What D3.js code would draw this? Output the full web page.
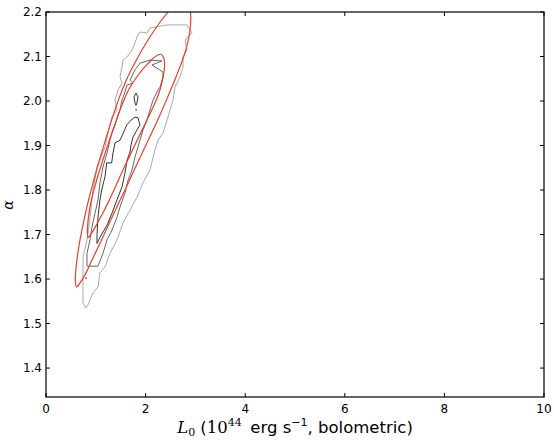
<!DOCTYPE html>
<html><head><meta charset="utf-8">
<script src="https://cdn.jsdelivr.net/npm/d3@7/dist/d3.min.js"></script>
<style>body{margin:0;background:#fff}svg{display:block}</style>
</head><body>
<svg id="c" width="554" height="440"></svg>
<script>
// ---- data (L0 in 1e44 erg/s, alpha) ----
const xTicks = [0, 2, 4, 6, 8, 10];
const yTicks = [1.4, 1.5, 1.6, 1.7, 1.8, 1.9, 2.0, 2.1, 2.2];
const xDomain = [0, 10];
const yDomain = [1.335, 2.2];

// outer (light grey) MCMC contour
const contourOuter = [[0.803,1.535],[0.843,1.542],[0.944,1.569],[1.044,1.582],[1.084,1.614],[1.185,1.627],[1.285,1.658],[1.426,1.688],[1.546,1.726],[1.687,1.755],[1.827,1.784],[1.948,1.816],[2.088,1.845],[2.189,1.890],[2.249,1.912],[2.349,1.928],[2.450,1.964],[2.550,2.002],[2.590,2.031],[2.691,2.054],[2.751,2.076],[2.751,2.099],[2.831,2.115],[2.791,2.137],[2.932,2.153],[2.831,2.171],[2.430,2.171],[2.088,2.164],[2.028,2.153],[1.888,2.155],[1.827,2.144],[1.787,2.130],[1.727,2.115],[1.627,2.099],[1.546,2.092],[1.526,2.076],[1.486,2.054],[1.526,2.040],[1.446,2.025],[1.386,2.002],[1.426,1.980],[1.325,1.964],[1.245,1.928],[1.185,1.897],[1.084,1.867],[1.024,1.852],[0.944,1.800],[0.884,1.739],[0.823,1.688],[0.743,1.649],[0.743,1.614],[0.743,1.582],[0.743,1.546],[0.803,1.535]];
// middle (mid grey) contour
const contourMiddle = [[0.823,1.629],[1.044,1.629],[1.145,1.658],[1.225,1.688],[1.325,1.710],[1.426,1.739],[1.486,1.762],[1.586,1.793],[1.647,1.822],[1.727,1.845],[1.787,1.874],[1.888,1.912],[1.948,1.935],[2.028,1.957],[2.088,1.980],[2.149,2.002],[2.249,2.025],[2.289,2.031],[2.349,2.054],[2.349,2.065],[2.129,2.081],[2.329,2.090],[2.088,2.092],[1.888,2.085],[1.787,2.070],[1.687,2.047],[1.747,2.040],[1.627,2.036],[1.586,2.020],[1.526,2.002],[1.486,1.980],[1.446,1.969],[1.386,1.946],[1.325,1.928],[1.285,1.912],[1.225,1.883],[1.145,1.852],[1.084,1.816],[1.044,1.778],[0.984,1.748],[0.924,1.717],[0.884,1.688],[0.823,1.658],[0.823,1.629]];
// inner (dark) contour
const contourInner = [[1.787,1.964],[1.847,1.962],[1.888,1.946],[1.827,1.935],[1.747,1.919],[1.707,1.901],[1.687,1.885],[1.627,1.867],[1.586,1.838],[1.526,1.807],[1.426,1.778],[1.325,1.748],[1.225,1.721],[1.084,1.694],[1.024,1.680],[1.024,1.700],[1.044,1.739],[1.084,1.778],[1.118,1.800],[1.185,1.830],[1.219,1.861],[1.319,1.861],[1.345,1.883],[1.386,1.906],[1.486,1.912],[1.552,1.928],[1.620,1.946],[1.707,1.957],[1.787,1.964]];
const contourInnerLoop = [[1.767,2.009],[1.807,2.018],[1.847,2.009],[1.827,1.996],[1.807,1.990],[1.787,1.996],[1.767,2.009]];
const innerDots = [[1.807,1.980],[0.803,1.602]];

// Fisher-forecast confidence ellipses (outline points)
const ellipseOuter = [[2.610,2.227],[2.711,2.234],[2.811,2.231],[2.882,2.218],[2.902,2.200],[2.906,2.182],[2.892,2.160],[2.857,2.137],[2.807,2.115],[2.741,2.092],[2.667,2.070],[2.586,2.047],[2.418,2.002],[2.225,1.953],[2.036,1.908],[1.837,1.861],[1.631,1.811],[1.452,1.769],[1.281,1.728],[1.141,1.694],[1.018,1.665],[0.896,1.636],[0.791,1.611],[0.695,1.593],[0.643,1.585],[0.612,1.582],[0.590,1.596],[0.594,1.613],[0.614,1.636],[0.639,1.658],[0.683,1.688],[0.763,1.733],[0.855,1.778],[0.960,1.822],[1.072,1.867],[1.193,1.912],[1.317,1.957],[1.454,2.002],[1.614,2.047],[1.815,2.092],[2.048,2.137],[2.321,2.182],[2.450,2.200],[2.530,2.218]];
const ellipseInner = [[2.299,2.105],[2.349,2.101],[2.375,2.092],[2.382,2.079],[2.359,2.058],[2.325,2.040],[2.279,2.022],[2.221,2.004],[2.153,1.987],[2.078,1.969],[2.000,1.951],[1.823,1.910],[1.677,1.876],[1.536,1.843],[1.402,1.809],[1.281,1.780],[1.155,1.751],[1.024,1.724],[0.932,1.706],[0.867,1.696],[0.843,1.693],[0.831,1.706],[0.839,1.724],[0.861,1.746],[0.896,1.769],[0.940,1.791],[0.994,1.813],[1.054,1.836],[1.116,1.858],[1.181,1.881],[1.247,1.903],[1.315,1.926],[1.386,1.948],[1.458,1.971],[1.534,1.993],[1.618,2.016],[1.715,2.036],[1.823,2.054],[1.940,2.071],[2.058,2.085],[2.159,2.097],[2.239,2.103]];

// ---- layout ----
const W = 554, H = 440;
const m = {left: 46, right: 10, top: 12, bottom: 43};
const pw = W - m.left - m.right, ph = H - m.top - m.bottom;
const svg = d3.select('#c');
const x = d3.scaleLinear().domain(xDomain).range([m.left, m.left + pw]);
const y = d3.scaleLinear().domain(yDomain).range([m.top + ph, m.top]);

svg.append('defs').append('clipPath').attr('id','clip')
  .append('rect').attr('x', m.left).attr('y', m.top).attr('width', pw).attr('height', ph);

const g = svg.append('g').attr('clip-path','url(#clip)');
const line = d3.line().x(d => x(d[0])).y(d => y(d[1]));
const smooth = d3.line().x(d => x(d[0])).y(d => y(d[1])).curve(d3.curveCatmullRomClosed.alpha(0.5));

const greys = ['#a9a9a9', '#666666', '#333333'];
[contourOuter, contourMiddle, contourInner].forEach((c, i) => {
  g.append('path').attr('d', line(c)).attr('fill','none')
    .attr('stroke', greys[i]).attr('stroke-width', 1);
});
g.append('path').attr('d', line(contourInnerLoop)).attr('fill','none')
  .attr('stroke', greys[2]).attr('stroke-width', 1);
g.selectAll('rect.dot').data(innerDots).join('rect').attr('class','dot')
  .attr('x', d => x(d[0]) - 0.5).attr('y', d => y(d[1]) - 1)
  .attr('width', 1.2).attr('height', 2).attr('fill', '#555');

[ellipseOuter, ellipseInner].forEach(e => {
  g.append('path').attr('d', smooth(e)).attr('fill','none')
    .attr('stroke', '#e8402a').attr('stroke-width', 1.2);
});

// frame
svg.append('rect').attr('x', m.left).attr('y', m.top).attr('width', pw).attr('height', ph)
  .attr('fill','none').attr('stroke','#000').attr('stroke-width', 1.2);

const tl = 4;
const font = "'DejaVu Sans', sans-serif";
xTicks.forEach(v => {
  svg.append('line').attr('x1', x(v)).attr('x2', x(v)).attr('y1', m.top + ph).attr('y2', m.top + ph - tl).attr('stroke','#000');
  svg.append('line').attr('x1', x(v)).attr('x2', x(v)).attr('y1', m.top).attr('y2', m.top + tl).attr('stroke','#000');
  svg.append('text').attr('x', x(v)).attr('y', m.top + ph + 16).attr('text-anchor','middle')
    .attr('font-family', font).attr('font-size', 12).text(v);
});
yTicks.forEach(v => {
  svg.append('line').attr('x1', m.left).attr('x2', m.left + tl).attr('y1', y(v)).attr('y2', y(v)).attr('stroke','#000');
  svg.append('line').attr('x1', m.left + pw).attr('x2', m.left + pw - tl).attr('y1', y(v)).attr('y2', y(v)).attr('stroke','#000');
  svg.append('text').attr('x', m.left - 4).attr('y', y(v)).attr('dy','0.35em').attr('text-anchor','end')
    .attr('font-family', font).attr('font-size', 12).text(v.toFixed(1));
});

// axis labels
const xl = svg.append('text').attr('x', m.left + pw / 2).attr('y', 433).attr('text-anchor','middle')
  .attr('font-family', font).attr('font-size', 16.5);
xl.append('tspan').attr('font-family',"'DejaVu Serif', serif").attr('font-style','italic').text('L');
xl.append('tspan').attr('font-family',"'DejaVu Serif', serif").attr('font-size', 11).attr('dy', 3).text('0');
xl.append('tspan').attr('dy', -3).text(' (');
xl.append('tspan').attr('font-family',"'DejaVu Serif', serif").text('10');
xl.append('tspan').attr('font-family',"'DejaVu Serif', serif").attr('font-size', 11).attr('dy', -7).text('44');
xl.append('tspan').attr('dy', 7).text('\u2009 erg s');
xl.append('tspan').attr('font-size', 11).attr('dy', -7).text('\u22121');
xl.append('tspan').attr('dy', 7).text(', bolometric)');

svg.append('text').attr('transform', 'translate(13,205) rotate(-90)').attr('text-anchor','middle')
  .attr('font-family',"'DejaVu Serif', serif").attr('font-style','italic').attr('font-size', 14).text('\u03b1');
</script>
</body></html>
